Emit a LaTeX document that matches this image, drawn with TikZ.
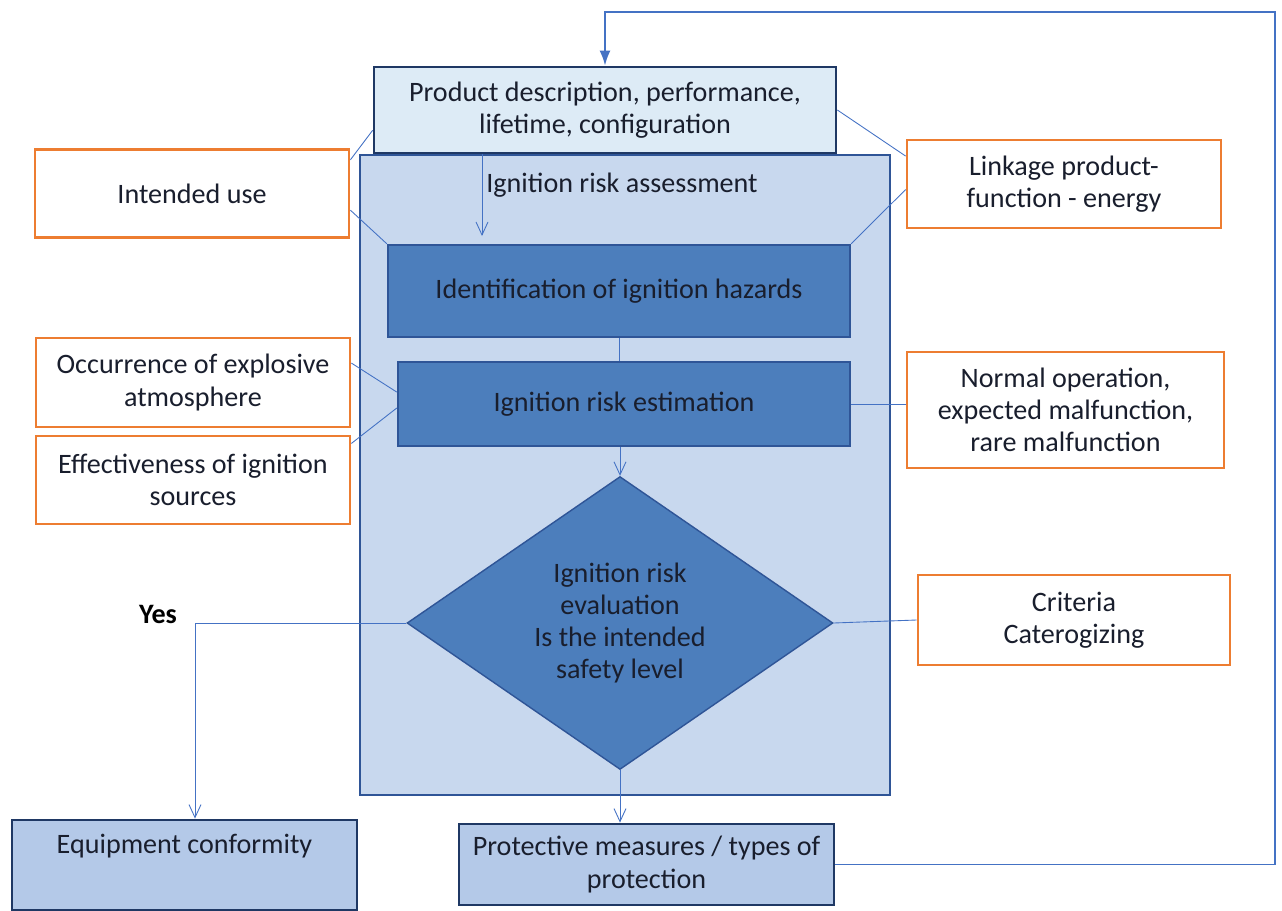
\documentclass[tikz,border=0pt]{standalone}
\usepackage{fontspec}
\setmainfont{Carlito}
\usetikzlibrary{shapes.geometric,arrows.meta}
\definecolor{boxorange}{RGB}{237,125,49}
\definecolor{navy}{RGB}{31,56,100}
\definecolor{frameblue}{RGB}{47,85,151}
\definecolor{midblue}{RGB}{76,126,188}
\definecolor{paleblue}{RGB}{200,216,238}
\definecolor{lightblue}{RGB}{221,235,246}
\definecolor{lineblue}{RGB}{68,114,196}
\definecolor{inktext}{RGB}{25,30,45}
\begin{document}
\begin{tikzpicture}[x=0.02cm,y=-0.02cm, >={Straight Barb[length=2.6mm,width=2.4mm]},
  every node/.style={font=\fontsize{16}{18.4}\selectfont, text=inktext, align=center},
  factor/.style={draw=boxorange, line width=1.6pt, fill=white, minimum width=6.28cm, minimum height=1.76cm},
  stage/.style={draw=frameblue, line width=1.4pt, fill=midblue, minimum height=1.76cm},
  outcome/.style={draw=navy, line width=1.6pt, fill=paleblue!85!lineblue},
  link/.style={draw=lineblue, line width=0.5pt}]
\useasboundingbox (0,0) rectangle (1282,910);
\node[draw=frameblue, line width=1.6pt, fill=paleblue, minimum width=10.6cm, minimum height=12.8cm] (assess) at (625,475) {};
\node[draw=navy, line width=1.6pt, fill=lightblue, minimum width=9.24cm, minimum height=1.72cm] (prod) at (605,110) {Product description, performance,\\ lifetime, configuration};
\node (asslbl) at (622,185) {Ignition risk assessment};
\node[stage, minimum width=9.24cm, minimum height=1.84cm] (ident) at (619,291) {Identification of ignition hazards};
\node[stage, minimum width=9.04cm, minimum height=1.68cm] (estim) at (624,404) {Ignition risk estimation};
\node[diamond, draw=frameblue, line width=0.8pt, fill=midblue, minimum width=8.52cm, minimum height=5.86cm, inner sep=0pt] (dia) at (620,623) {Ignition risk\\ evaluation\\ Is the intended\\ safety level};
\node[factor] (intent) at (192,193.5) {Intended use};
\node[factor, minimum height=1.78cm] (occ) at (193,382.5) {Occurrence of explosive\\ atmosphere};
\node[factor] (eff) at (193,480) {Effectiveness of ignition\\ sources};
\node[factor] (linkage) at (1064,184) {Linkage product-\\ function - energy};
\node[factor, minimum width=6.34cm, minimum height=2.32cm] (normal) at (1065.5,410) {Normal operation,\\ expected malfunction,\\ rare malfunction};
\node[factor, minimum width=6.24cm, minimum height=1.8cm] (crit) at (1074,620) {Criteria\\ Caterogizing};
\node[outcome, minimum width=6.9cm, minimum height=1.8cm] (eq) at (184.5,865) {Equipment conformity\\ \strut};
\node[outcome, minimum width=7.5cm, minimum height=1.62cm] (prot) at (646.5,864.5) {Protective measures / types of\\ protection};
\node[font=\fontsize{16}{18.4}\selectfont\bfseries, text=black] (yes) at (158,614) {Yes};
\coordinate (fbc) at (1275,12);
\coordinate (a2) at (482,236);
\draw[link, -{Latex[length=3mm,width=2.2mm]}, line width=1pt] (prot.east) -| (fbc) -| (prod.north);
\draw[link, ->] (assess.north -| a2) -- (a2);
\draw[link] (prod.185) -- (intent.12);
\draw[link] (intent.354) -- (ident.north west);
\draw[link] (prod.east) -- (linkage.170);
\draw[link] (ident.north east) -- (linkage.182);
\draw[link] (ident.south) -- (ident.south |- estim.north);
\draw[link] (occ.7) -- (estim.177);
\draw[link] (eff.13) -- (estim.181);
\draw[link] (estim.east) -- (estim.east -| normal.west);
\draw[link, ->] (estim.south -| dia.north) -- (dia.north);
\draw[link, ->] (dia.south) -- (dia.south |- prot.north);
\draw[link, ->] (dia.west) -| ([xshift=0.21cm]eq.north);
\draw[link] (dia.east) -- (crit.west);
\end{tikzpicture}
\end{document}
